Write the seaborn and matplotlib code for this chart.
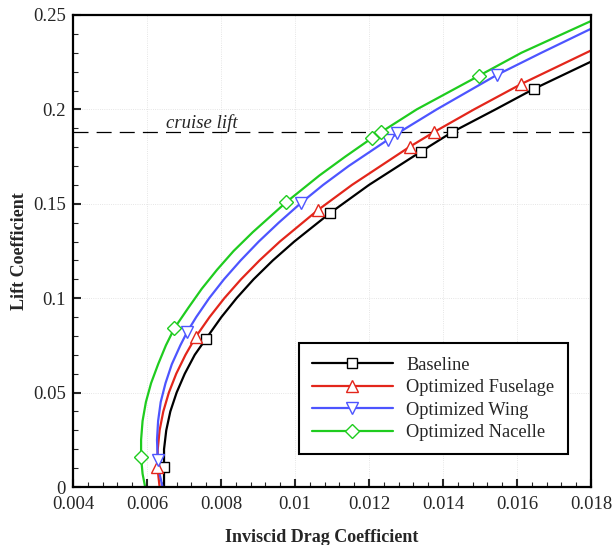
import numpy as np
import pandas as pd
import seaborn as sns
import matplotlib.pyplot as plt
from matplotlib.lines import Line2D
from matplotlib.ticker import MultipleLocator, FuncFormatter

# drag polars (CD, CL)
base_cd = [0.00646, 0.00646, 0.00646, 0.00652, 0.00663, 0.00680, 0.00702, 0.00729, 0.00759,
           0.00801, 0.00842, 0.00888, 0.00940, 0.00998, 0.01094, 0.01200, 0.01340, 0.01424,
           0.01542, 0.01645, 0.01800]
base_cl = [0.000, 0.0104, 0.020, 0.030, 0.040, 0.050, 0.060, 0.070, 0.0784,
           0.090, 0.100, 0.110, 0.120, 0.130, 0.145, 0.160, 0.1776, 0.1879,
           0.200, 0.2108, 0.2253]

fus_cd = [0.00634, 0.00628, 0.00629, 0.00634, 0.00644, 0.00659, 0.00679, 0.00704, 0.00732,
          0.00769, 0.00809, 0.00854, 0.00904, 0.00959, 0.01062, 0.01154, 0.01310, 0.01375,
          0.01484, 0.01612, 0.01800]
fus_cl = [0.000, 0.0108, 0.020, 0.030, 0.040, 0.050, 0.060, 0.070, 0.0796,
          0.090, 0.100, 0.110, 0.120, 0.130, 0.1467, 0.160, 0.1802, 0.1879,
          0.200, 0.2135, 0.2312]

wing_cd = [0.00642, 0.00634, 0.00629, 0.00627, 0.00630, 0.00637, 0.00650, 0.00667, 0.00690,
           0.00709, 0.00733, 0.00768, 0.00808, 0.00853, 0.00902, 0.00956, 0.01017, 0.01076,
           0.01145, 0.01250, 0.01277, 0.01383, 0.01545, 0.01666, 0.01800]
wing_cl = [0.000, 0.007, 0.0145, 0.025, 0.035, 0.045, 0.055, 0.065, 0.075,
           0.0823, 0.090, 0.100, 0.110, 0.120, 0.130, 0.140, 0.1506, 0.160,
           0.170, 0.1838, 0.1873, 0.200, 0.2182, 0.230, 0.2427]

nac_cd = [0.00595, 0.00588, 0.00584, 0.00584, 0.00588, 0.00597, 0.00611, 0.00630, 0.00651,
          0.00674, 0.00712, 0.00748, 0.00789, 0.00834, 0.00886, 0.00976, 0.01066, 0.01136,
          0.01207, 0.01232, 0.01329, 0.01498, 0.01612, 0.01800]
nac_cl = [0.000, 0.007, 0.0157, 0.025, 0.035, 0.045, 0.055, 0.065, 0.075,
          0.0841, 0.095, 0.105, 0.115, 0.125, 0.135, 0.1508, 0.165, 0.175,
          0.1847, 0.1879, 0.200, 0.2179, 0.230, 0.2468]

# symbol positions on each polar
base_mark_cd = [0.00646, 0.00759, 0.01094, 0.01340, 0.01424, 0.01645]
base_mark_cl = [0.0104, 0.0784, 0.145, 0.1776, 0.1879, 0.2108]
fus_mark_cd = [0.00628, 0.00732, 0.01062, 0.01310, 0.01375, 0.01612]
fus_mark_cl = [0.0108, 0.0796, 0.1467, 0.1802, 0.1879, 0.2135]
wing_mark_cd = [0.00629, 0.00709, 0.01017, 0.01250, 0.01277, 0.01545]
wing_mark_cl = [0.0145, 0.0823, 0.1506, 0.1838, 0.1873, 0.2182]
nac_mark_cd = [0.00584, 0.00674, 0.00976, 0.01207, 0.01232, 0.01498]
nac_mark_cl = [0.0157, 0.0841, 0.1508, 0.1847, 0.1879, 0.2179]

cruise_cl = 0.188

series = [
    ('Baseline', base_cd, base_cl, base_mark_cd, base_mark_cl, 'black', 's', 7.5),
    ('Optimized Fuselage', fus_cd, fus_cl, fus_mark_cd, fus_mark_cl, '#e3261b', '^', 9),
    ('Optimized Wing', wing_cd, wing_cl, wing_mark_cd, wing_mark_cl, '#4d55ff', 'v', 9),
    ('Optimized Nacelle', nac_cd, nac_cl, nac_mark_cd, nac_mark_cl, '#1fcc1f', 'D', 7),
]

sns.set_style('ticks')
plt.rcParams['font.family'] = ['Liberation Serif', 'DejaVu Serif']

fig = plt.figure(figsize=(6.12, 5.45), dpi=100)
ax = fig.add_axes([0.1193, 0.1064, 0.8464, 0.8661])

handles = []
for name, cd, cl, mcd, mcl, color, mk, ms in series:
    df = pd.DataFrame({'cd': cd, 'cl': cl})
    sns.lineplot(data=df, x='cd', y='cl', sort=False, estimator=None,
                 color=color, lw=1.6, ax=ax, zorder=2)
    ax.plot(mcd, mcl, ls='none', marker=mk, ms=ms, mfc='white', mec=color,
            mew=1.0, zorder=3)
    handles.append(Line2D([0], [0], color=color, lw=1.6, marker=mk, ms=ms,
                          mfc='white', mec=color, mew=1.0, label=name))

ax.axhline(cruise_cl, color='black', lw=0.9, dashes=(12, 6.5), zorder=1)
ax.text(0.00652, cruise_cl - 0.0002, 'cruise lift', fontsize=13.5,
        style='italic', ha='left', va='bottom')

ax.set_xlim(0.004, 0.018)
ax.set_ylim(0, 0.25)
ax.xaxis.set_major_locator(MultipleLocator(0.002))
ax.xaxis.set_minor_locator(MultipleLocator(0.0004))
ax.yaxis.set_major_locator(MultipleLocator(0.05))
ax.yaxis.set_minor_locator(MultipleLocator(0.01))
fmt = FuncFormatter(lambda v, p: f'{v:g}')
ax.xaxis.set_major_formatter(fmt)
ax.yaxis.set_major_formatter(fmt)

ax.grid(True, which='major', color='#dddddd', lw=0.6, ls=':')
ax.tick_params(which='both', direction='in', top=False, right=False,
               labelsize=13.5)
ax.tick_params(axis='x', pad=6.5)
ax.tick_params(axis='y', pad=5)
ax.tick_params(which='major', length=6, width=1.5)
ax.tick_params(which='minor', length=3.5, width=0.8)
for s in ax.spines.values():
    s.set_linewidth(1.6)
    s.set_color('black')

ax.set_xlabel('Inviscid Drag Coefficient', fontsize=13, fontweight='bold')
ax.xaxis.set_label_coords(0.481, -0.089)
ax.set_ylabel('Lift Coefficient', fontsize=13, fontweight='bold', labelpad=4)

leg = ax.legend(handles=handles, loc='upper left', bbox_to_anchor=(0.436, 0.3044),
                borderaxespad=0, fontsize=13.2, handlelength=4.4, handletextpad=0.75,
                labelspacing=0.3, borderpad=0.72, fancybox=False, frameon=True,
                edgecolor='black', framealpha=1, numpoints=1)
leg.get_frame().set_linewidth(1.5)

fig.savefig('out.png', dpi=100)
